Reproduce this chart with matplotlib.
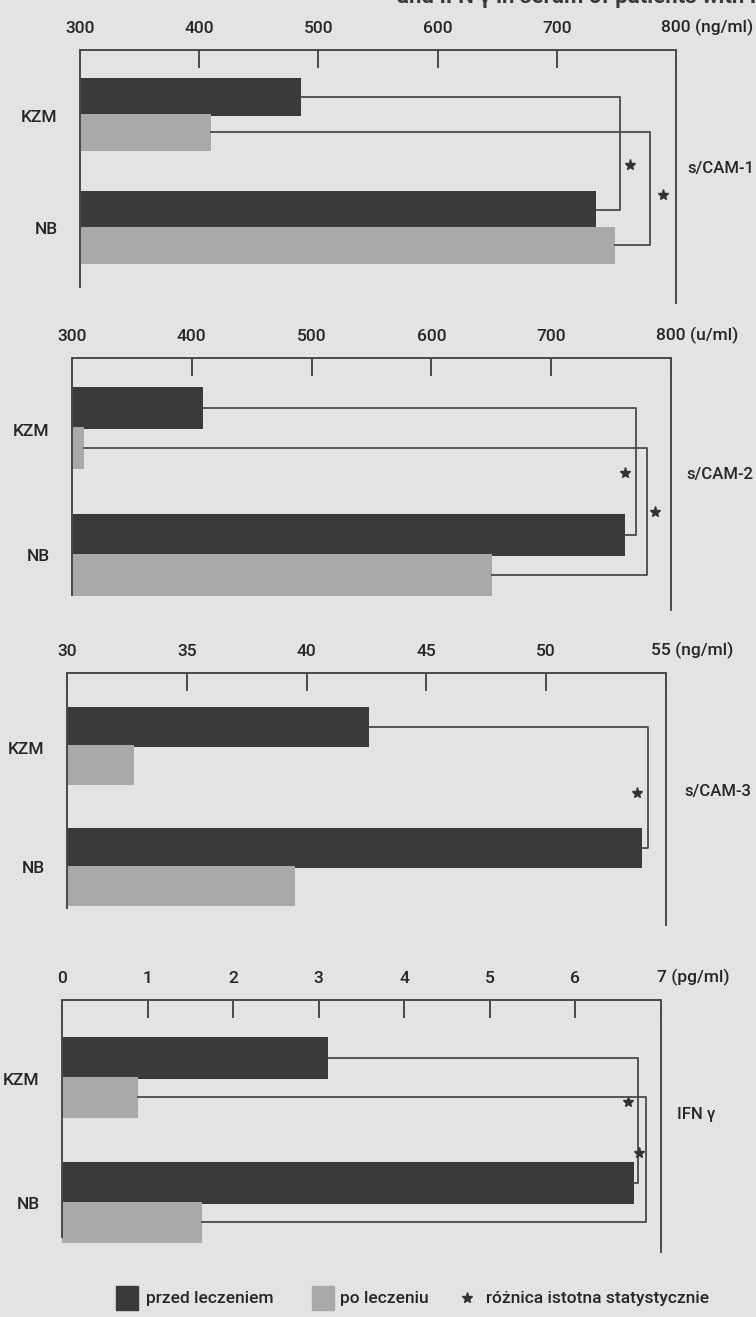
import matplotlib.pyplot as plt
from matplotlib.patches import Rectangle
from matplotlib.transforms import ScaledTranslation

plt.rcParams['font.family'] = ['Roboto', 'DejaVu Sans']
plt.rcParams['font.weight'] = 500

# data
panel_names = ["s/CAM-1", "s/CAM-2", "s/CAM-3", "IFN γ"]
units = ["(ng/ml)", "(u/ml)", "(ng/ml)", "(pg/ml)"]
ticks = [[300, 400, 500, 600, 700, 800],
         [300, 400, 500, 600, 700, 800],
         [30, 35, 40, 45, 50, 55],
         [0, 1, 2, 3, 4, 5, 6, 7]]
groups = ["KZM", "NB"]
kzm_before = [485, 409, 42.6, 3.11]
kzm_after = [410, 310, 32.8, 0.89]
nb_before = [733, 762, 54.0, 6.68]
nb_after = [749, 651, 39.5, 1.64]

# significance brackets: (series, bracket x, star x, star y)
signif = [
    [("before", 753, 761, 1.43), ("after", 778, 789, 2.28)],
    [("before", 771, 762, 1.14), ("after", 780, 787, 2.12)],
    [("before", 54.25, 53.8, 1.25)],
    [("before", 6.73, 6.61, 0.63), ("after", 6.83, 6.74, 1.92)],
]
legend_labels = ["przed leczeniem", "po leczeniu", "różnica istotna statystycznie"]

W, H = 756, 1317
BG = '#e3e3e1'
DARK = '#3a3a3a'
LIGHT = '#a9a9a9'
LINE = '#4a4a4a'
TXT = '#262626'
FS = 12.5

# panel frames in pixels: left, right, top, bottom, left-spine bottom, kzm dark centre, nb dark centre
frames = [
    (80, 676, 50, 303, 287, 97, 210),
    (72, 671, 358, 610, 595, 408, 535),
    (67, 666, 673, 925, 908, 727, 848),
    (62, 661, 1000, 1252, 1237, 1058, 1183),
]
label_pos = [(687, 168), (686, 475), (684, 792), (677, 1115)]


def fx(px):
    return px / W


def fy(py):
    return 1 - py / H


fig = plt.figure(figsize=(W / 100, H / 100), dpi=100, facecolor=BG)

y_kzm, y_nb = 0.0, 3.2
for i in range(4):
    left, right, top, bottom, lbot, kpx, npx = frames[i]
    ax = fig.add_axes([fx(left), fy(bottom), (right - left) / W, (bottom - top) / H])
    ax.set_facecolor(BG)
    s = (npx - kpx) / (y_nb - y_kzm)
    ytop = y_kzm - 0.5 - (kpx - top) / s
    ybot = ytop + (bottom - top) / s
    ax.set_ylim(ybot, ytop)
    ax.set_xlim(ticks[i][0], ticks[i][-1])

    base = ticks[i][0]
    vals_b = [kzm_before[i], nb_before[i]]
    vals_a = [kzm_after[i], nb_after[i]]
    yb = [y_kzm - 0.5, y_nb - 0.5]
    ya = [y_kzm + 0.5, y_nb + 0.5]
    ax.barh(yb, [v - base for v in vals_b], left=base, height=1.05, color=DARK)
    ax.barh(ya, [v - base for v in vals_a], left=base, height=1.05, color=LIGHT)

    for series, bx, sx, sy in signif[i]:
        if series == "before":
            v1, v2, y1, y2 = vals_b[0], vals_b[1], yb[0], yb[1]
        else:
            v1, v2, y1, y2 = vals_a[0], vals_a[1], ya[0], ya[1]
        ax.plot([v1, bx, bx, v2], [y1, y1, y2, y2], color=LINE, lw=1.3, clip_on=False)
        ax.plot(sx, sy, marker='*', ms=8, color='#333333', clip_on=False)

    for sp in ['top', 'left', 'right']:
        ax.spines[sp].set_color(LINE)
        ax.spines[sp].set_linewidth(1.4)
    ax.spines['bottom'].set_visible(False)
    ax.spines['left'].set_bounds(ytop, ytop + (lbot - top) / s)

    ax.xaxis.tick_top()
    ax.set_xticks(ticks[i])
    labels = [str(t) for t in ticks[i]]
    labels[-1] = labels[-1] + " " + units[i]
    ax.set_xticklabels(labels)
    ax.tick_params(axis='x', direction='in', length=13, width=1.4, color=LINE,
                   pad=10, labelsize=FS, labelcolor=TXT)
    last = ax.get_xticklabels()[-1]
    last.set_horizontalalignment('left')
    shift = 0.15 if ticks[i][-1] >= 10 else 0.04
    last.set_transform(last.get_transform() + ScaledTranslation(-shift, 0, fig.dpi_scale_trans))

    ax.set_yticks([y_kzm + 0.05, y_nb])
    ax.set_yticklabels(groups)
    ax.tick_params(axis='y', length=0, pad=16, labelsize=FS, labelcolor=TXT)

    lx, ly = label_pos[i]
    fig.text(fx(lx), fy(ly), panel_names[i], fontsize=12, color=TXT, ha='left', va='center')

# partial caption line from the page above the figure
fig.text(1.0, 1.002, "and IFN γ in serum of patients with I", ha='right', va='center',
         fontsize=16, weight='bold', color='#3a3a3a')

# legend drawn by hand to match the page layout
ly = 1298
fig.add_artist(Rectangle((fx(116), fy(ly + 12)), 22 / W, 24 / H, transform=fig.transFigure,
                         color=DARK))
fig.text(fx(146), fy(ly), legend_labels[0], fontsize=FS, color=TXT, va='center')
fig.add_artist(Rectangle((fx(312), fy(ly + 12)), 22 / W, 24 / H, transform=fig.transFigure,
                         color=LIGHT))
fig.text(fx(340), fy(ly), legend_labels[1], fontsize=FS, color=TXT, va='center')
fig.lines.append(plt.Line2D([fx(467)], [fy(ly)], transform=fig.transFigure, ls='none',
                            marker='*', ms=8, color='#333333'))
fig.text(fx(486), fy(ly), legend_labels[2], fontsize=FS, color=TXT, va='center')

fig.savefig("out.png", dpi=100, facecolor=BG)
